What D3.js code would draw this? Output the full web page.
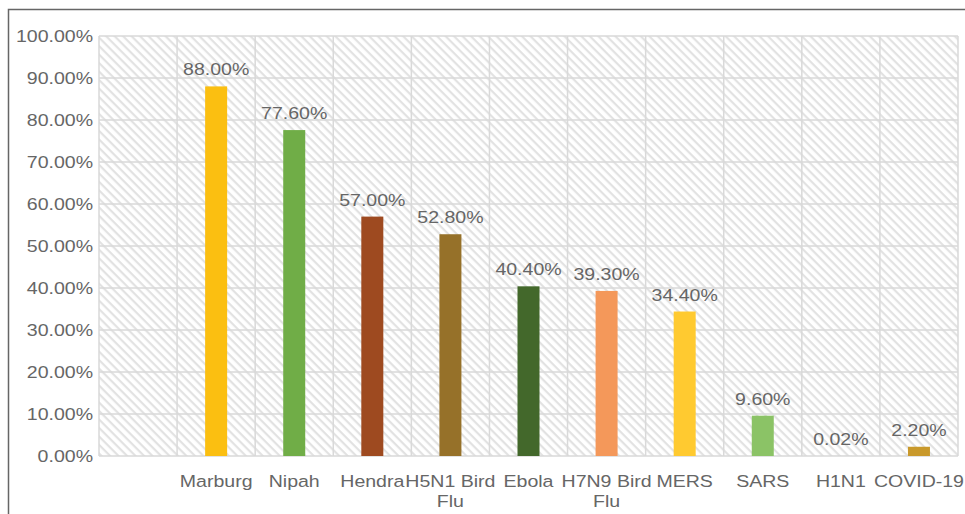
<!DOCTYPE html>
<html>
<head>
<meta charset="utf-8">
<script src="https://cdn.jsdelivr.net/npm/d3@7"></script>
<style>
  body { margin: 0; background: #fff; }
  text { font-family: "Liberation Sans", Arial, sans-serif; }
</style>
</head>
<body>
<script>
// Data
var diseases = ["", "Marburg", "Nipah", "Hendra", "H5N1 Bird Flu", "Ebola", "H7N9 Bird Flu", "MERS", "SARS", "H1N1", "COVID-19"];
var fatality = [null, 0.88, 0.776, 0.57, 0.528, 0.404, 0.393, 0.344, 0.096, 0.0002, 0.022];
var barColors = ["#fff", "#fbbf11", "#70ad47", "#9e4a20", "#967129", "#43682b", "#f4985a", "#ffca30", "#8bc366", "#bbb", "#c9992b"];
var yTicks = [0, 0.1, 0.2, 0.3, 0.4, 0.5, 0.6, 0.7, 0.8, 0.9, 1.0];

var W = 965, H = 514;
var margin = {top: 36, right: 7, bottom: 57, left: 99},
    width = W - margin.left - margin.right,
    height = H - margin.top - margin.bottom - 1;
var stretch = 1.15; // text in the picture is a bit wide

var svg = d3.select("body").append("svg")
    .attr("width", W)
    .attr("height", H);

// outer chart frame
svg.append("rect")
    .attr("x", 8.5).attr("y", 9.5)
    .attr("width", W).attr("height", H)
    .attr("fill", "none")
    .attr("stroke", "#666")
    .attr("stroke-width", 1.5);

// hatch pattern for the plot area
var pat = svg.append("defs").append("pattern")
    .attr("id", "hatch")
    .attr("patternUnits", "userSpaceOnUse")
    .attr("width", 6).attr("height", 6)
    .attr("patternTransform", "rotate(45)");
pat.append("rect").attr("width", 6).attr("height", 6).attr("fill", "#fff");
pat.append("rect").attr("x", 0).attr("y", 0).attr("width", 6).attr("height", 2.2).attr("fill", "#e2e2e2");

var g = svg.append("g")
    .attr("transform", "translate(" + margin.left + "," + margin.top + ")");

var x = d3.scaleBand().domain(diseases.map(function(d, i) { return i; })).range([0, width]);
var y = d3.scaleLinear().domain([0, 1]).range([height, 0]);

g.append("rect")
    .attr("width", width).attr("height", height)
    .attr("fill", "url(#hatch)");

// horizontal gridlines
g.selectAll(".hgrid").data(yTicks).enter().append("line")
    .attr("x1", 0).attr("x2", width)
    .attr("y1", function(d) { return y(d); })
    .attr("y2", function(d) { return y(d); })
    .attr("stroke", "#d9d9d9").attr("stroke-width", 1.5);

// vertical gridlines between categories
var edges = d3.range(diseases.length + 1).map(function(i) { return i * x.bandwidth(); });
g.selectAll(".vgrid").data(edges).enter().append("line")
    .attr("x1", function(d) { return d; }).attr("x2", function(d) { return d; })
    .attr("y1", 0).attr("y2", height)
    .attr("stroke", "#d9d9d9").attr("stroke-width", 1.5);

function label(px, py, anchor) {
  return g.append("text")
      .attr("text-anchor", anchor)
      .attr("font-size", 17)
      .attr("fill", "#666")
      .attr("transform", "translate(" + px + "," + py + ") scale(" + stretch + ",1)");
}

// y axis labels
yTicks.forEach(function(d) {
  label(-6, y(d) + 6, "end").text(d3.format(".2%")(d));
});

// bars
var barW = 22;
var rows = diseases.map(function(d, i) { return {name: d, i: i, v: fatality[i], c: barColors[i]}; })
    .filter(function(d) { return d.v !== null; });

g.selectAll(".bar").data(rows).enter().append("rect")
    .attr("class", "bar")
    .attr("x", function(d) { return x(d.i) + x.bandwidth() / 2 - barW / 2; })
    .attr("width", barW)
    .attr("y", function(d) { return y(d.v); })
    .attr("height", function(d) { return height - y(d.v); })
    .attr("fill", function(d) { return d.c; });

// value labels
rows.forEach(function(d) {
  label(x(d.i) + x.bandwidth() / 2, y(d.v) - 11, "middle").text(d3.format(".2%")(d.v));
});

// category labels, long ones wrap onto two lines
diseases.forEach(function(name, i) {
  if (!name) return;
  var lines = name.indexOf("Bird Flu") > -1 ? [name.replace(" Flu", ""), "Flu"] : [name];
  var t = label(x(i) + x.bandwidth() / 2, height + 31, "middle");
  lines.forEach(function(l, k) {
    t.append("tspan").attr("x", 0).attr("dy", k ? 20 : 0).text(l);
  });
});
</script>
</body>
</html>
